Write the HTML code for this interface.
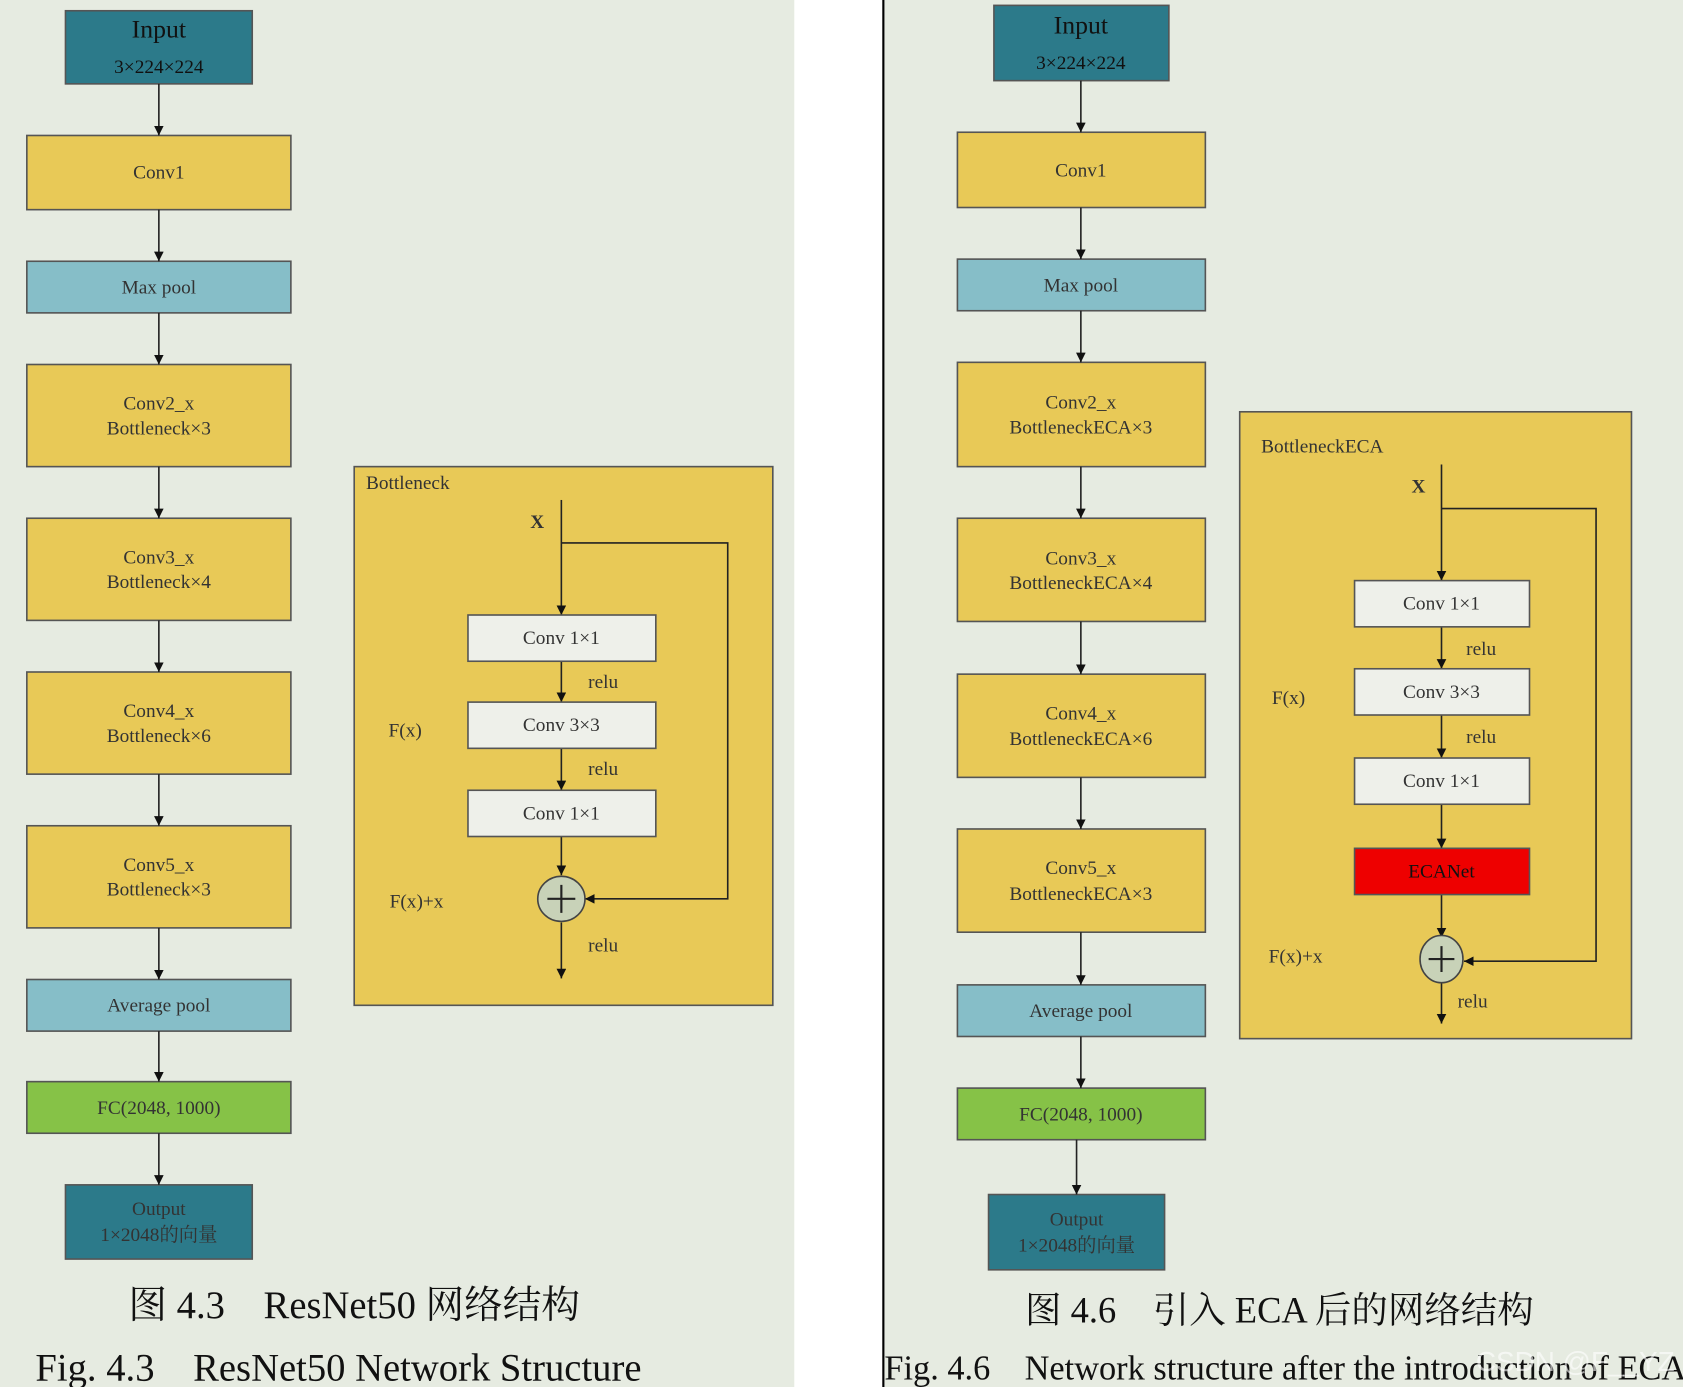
<!DOCTYPE html>
<html><head><meta charset="utf-8"><style>
html,body{margin:0;padding:0;background:#fff}
svg{display:block}
text{font-family:"Liberation Serif","Noto Serif CJK SC",serif;fill:#333}
.b{stroke:#555;stroke-width:1.5}
.l{stroke:#222;stroke-width:1.5;fill:none}
</style></head><body>
<svg width="1683" height="1387" viewBox="0 0 1568 1290" preserveAspectRatio="none" xmlns="http://www.w3.org/2000/svg">
<defs><marker id="a" viewBox="0 0 10 10" refX="10" refY="5" markerWidth="9" markerHeight="9" orient="auto-start-reverse" markerUnits="userSpaceOnUse"><path d="M0,0L10,5L0,10z" fill="#111"/></marker></defs>
<rect x="0" y="0" width="740" height="1290" fill="#e6ebe1"/>
<rect x="824" y="0" width="744" height="1290" fill="#e6ebe1"/>
<line x1="823" y1="0" x2="823" y2="1290" stroke="#000" stroke-width="2"/>

<!-- LEFT -->
<g font-size="18" text-anchor="middle">
<rect class="b" x="61" y="10" width="174" height="68" fill="#2c7a8a"/>
<text x="148" y="35" font-size="24" style="fill:#111">Input</text>
<text x="148" y="68" font-size="18" style="fill:#111">3×224×224</text>
<rect class="b" x="25" y="126" width="246" height="69" fill="#e8c957"/><text x="148" y="166">Conv1</text>
<rect class="b" x="25" y="243" width="246" height="48" fill="#86bec8"/><text x="148" y="273">Max pool</text>
<rect class="b" x="25" y="339" width="246" height="95" fill="#e8c957"/><text x="148" y="381">Conv2_x</text><text x="148" y="404">Bottleneck×3</text>
<rect class="b" x="25" y="482" width="246" height="95" fill="#e8c957"/><text x="148" y="524">Conv3_x</text><text x="148" y="547">Bottleneck×4</text>
<rect class="b" x="25" y="625" width="246" height="95" fill="#e8c957"/><text x="148" y="667">Conv4_x</text><text x="148" y="690">Bottleneck×6</text>
<rect class="b" x="25" y="768" width="246" height="95" fill="#e8c957"/><text x="148" y="810">Conv5_x</text><text x="148" y="833">Bottleneck×3</text>
<rect class="b" x="25" y="911" width="246" height="48" fill="#86bec8"/><text x="148" y="941">Average pool</text>
<rect class="b" x="25" y="1006" width="246" height="48" fill="#86c247"/><text x="148" y="1036">FC(2048, 1000)</text>
<rect class="b" x="61" y="1102" width="174" height="69" fill="#2c7a8a"/><text x="148" y="1130">Output</text><text x="148" y="1154">1×2048的向量</text>
</g>
<g class="l" marker-end="url(#a)">
<line x1="148" y1="78" x2="148" y2="126"/><line x1="148" y1="195" x2="148" y2="243"/><line x1="148" y1="291" x2="148" y2="339"/>
<line x1="148" y1="434" x2="148" y2="482"/><line x1="148" y1="577" x2="148" y2="625"/><line x1="148" y1="720" x2="148" y2="768"/>
<line x1="148" y1="863" x2="148" y2="911"/><line x1="148" y1="959" x2="148" y2="1006"/><line x1="148" y1="1054" x2="148" y2="1102"/>
</g>
<rect class="b" x="330" y="434" width="390" height="501" fill="#e8c957"/>
<g font-size="18">
<text x="341" y="455">Bottleneck</text>
<text x="494" y="491" font-weight="bold">X</text>
<text x="362" y="685">F(x)</text>
<text x="363" y="844">F(x)+x</text>
<text x="548" y="640">relu</text><text x="548" y="721">relu</text><text x="548" y="885">relu</text>
</g>
<g class="l" marker-end="url(#a)">
<line x1="523" y1="465" x2="523" y2="572"/><line x1="523" y1="615" x2="523" y2="653"/><line x1="523" y1="696" x2="523" y2="735"/>
<line x1="523" y1="778" x2="523" y2="814"/><line x1="523" y1="858" x2="523" y2="910"/>
<polyline points="523,505 678,505 678,836 545,836"/>
</g>
<g font-size="18" text-anchor="middle">
<rect class="b" x="436" y="572" width="175" height="43" fill="#eef0ea"/><text x="523" y="599">Conv 1×1</text>
<rect class="b" x="436" y="653" width="175" height="43" fill="#eef0ea"/><text x="523" y="680">Conv 3×3</text>
<rect class="b" x="436" y="735" width="175" height="43" fill="#eef0ea"/><text x="523" y="762">Conv 1×1</text>
</g>
<ellipse cx="523" cy="836" rx="22" ry="21" fill="#c8d2b8" stroke="#444" stroke-width="1.5"/>
<path d="M510,836H536M523,823V849" stroke="#222" stroke-width="2"/>
<text x="330" y="1226" font-size="36" text-anchor="middle" style="fill:#111">图 4.3　ResNet50 网络结构</text>
<text x="33" y="1284" font-size="36" style="fill:#111">Fig. 4.3　ResNet50 Network Structure</text>

<!-- RIGHT -->
<g font-size="18" text-anchor="middle">
<rect class="b" x="926" y="5" width="163" height="70" fill="#2c7a8a"/>
<text x="1007" y="31" font-size="24" style="fill:#111">Input</text>
<text x="1007" y="64" style="fill:#111">3×224×224</text>
<rect class="b" x="892" y="123" width="231" height="70" fill="#e8c957"/><text x="1007" y="164">Conv1</text>
<rect class="b" x="892" y="241" width="231" height="48" fill="#86bec8"/><text x="1007" y="271">Max pool</text>
<rect class="b" x="892" y="337" width="231" height="97" fill="#e8c957"/><text x="1007" y="380">Conv2_x</text><text x="1007" y="403">BottleneckECA×3</text>
<rect class="b" x="892" y="482" width="231" height="96" fill="#e8c957"/><text x="1007" y="525">Conv3_x</text><text x="1007" y="548">BottleneckECA×4</text>
<rect class="b" x="892" y="627" width="231" height="96" fill="#e8c957"/><text x="1007" y="669">Conv4_x</text><text x="1007" y="693">BottleneckECA×6</text>
<rect class="b" x="892" y="771" width="231" height="96" fill="#e8c957"/><text x="1007" y="813">Conv5_x</text><text x="1007" y="837">BottleneckECA×3</text>
<rect class="b" x="892" y="916" width="231" height="48" fill="#86bec8"/><text x="1007" y="946">Average pool</text>
<rect class="b" x="892" y="1012" width="231" height="48" fill="#86c247"/><text x="1007" y="1042">FC(2048, 1000)</text>
<rect class="b" x="921" y="1111" width="164" height="70" fill="#2c7a8a"/><text x="1003" y="1140">Output</text><text x="1003" y="1164">1×2048的向量</text>
</g>
<g class="l" marker-end="url(#a)">
<line x1="1007" y1="75" x2="1007" y2="123"/><line x1="1007" y1="193" x2="1007" y2="241"/><line x1="1007" y1="289" x2="1007" y2="337"/>
<line x1="1007" y1="434" x2="1007" y2="482"/><line x1="1007" y1="578" x2="1007" y2="627"/><line x1="1007" y1="723" x2="1007" y2="771"/>
<line x1="1007" y1="867" x2="1007" y2="916"/><line x1="1007" y1="964" x2="1007" y2="1012"/><line x1="1003" y1="1060" x2="1003" y2="1111"/>
</g>
<rect class="b" x="1155" y="383" width="365" height="583" fill="#e8c957"/>
<g font-size="18">
<text x="1175" y="421">BottleneckECA</text>
<text x="1315" y="458" font-weight="bold">X</text>
<text x="1185" y="655">F(x)</text>
<text x="1182" y="895">F(x)+x</text>
<text x="1366" y="609">relu</text><text x="1366" y="691">relu</text><text x="1358" y="937">relu</text>
</g>
<g class="l" marker-end="url(#a)">
<line x1="1343" y1="432" x2="1343" y2="540"/><line x1="1343" y1="583" x2="1343" y2="622"/><line x1="1343" y1="665" x2="1343" y2="705"/>
<line x1="1343" y1="748" x2="1343" y2="789"/><line x1="1343" y1="832" x2="1343" y2="872"/><line x1="1343" y1="913" x2="1343" y2="952"/>
<polyline points="1343,473 1487,473 1487,894 1364,894"/>
</g>
<g font-size="18" text-anchor="middle">
<rect class="b" x="1262" y="540" width="163" height="43" fill="#eef0ea"/><text x="1343" y="567">Conv 1×1</text>
<rect class="b" x="1262" y="622" width="163" height="43" fill="#eef0ea"/><text x="1343" y="649">Conv 3×3</text>
<rect class="b" x="1262" y="705" width="163" height="43" fill="#eef0ea"/><text x="1343" y="732">Conv 1×1</text>
<rect class="b" x="1262" y="789" width="163" height="43" fill="#ee0000"/><text x="1343" y="816" style="fill:#111">ECANet</text>
</g>
<ellipse cx="1343" cy="892" rx="20" ry="22" fill="#c8d2b8" stroke="#444" stroke-width="1.5"/>
<path d="M1331,892H1355M1343,880V904" stroke="#222" stroke-width="2"/>
<text x="1192" y="1230" font-size="34" text-anchor="middle" style="fill:#111">图 4.6　引入 ECA 后的网络结构</text>
<text x="824" y="1283" font-size="32" style="fill:#111">Fig. 4.6　Network structure after the introduction of ECA</text>
<text x="1375" y="1275" font-size="26" style="fill:#fff;fill-opacity:0.6;font-family:'Liberation Sans',sans-serif">CSDN @F__YZ</text>
</svg>
</body></html>
